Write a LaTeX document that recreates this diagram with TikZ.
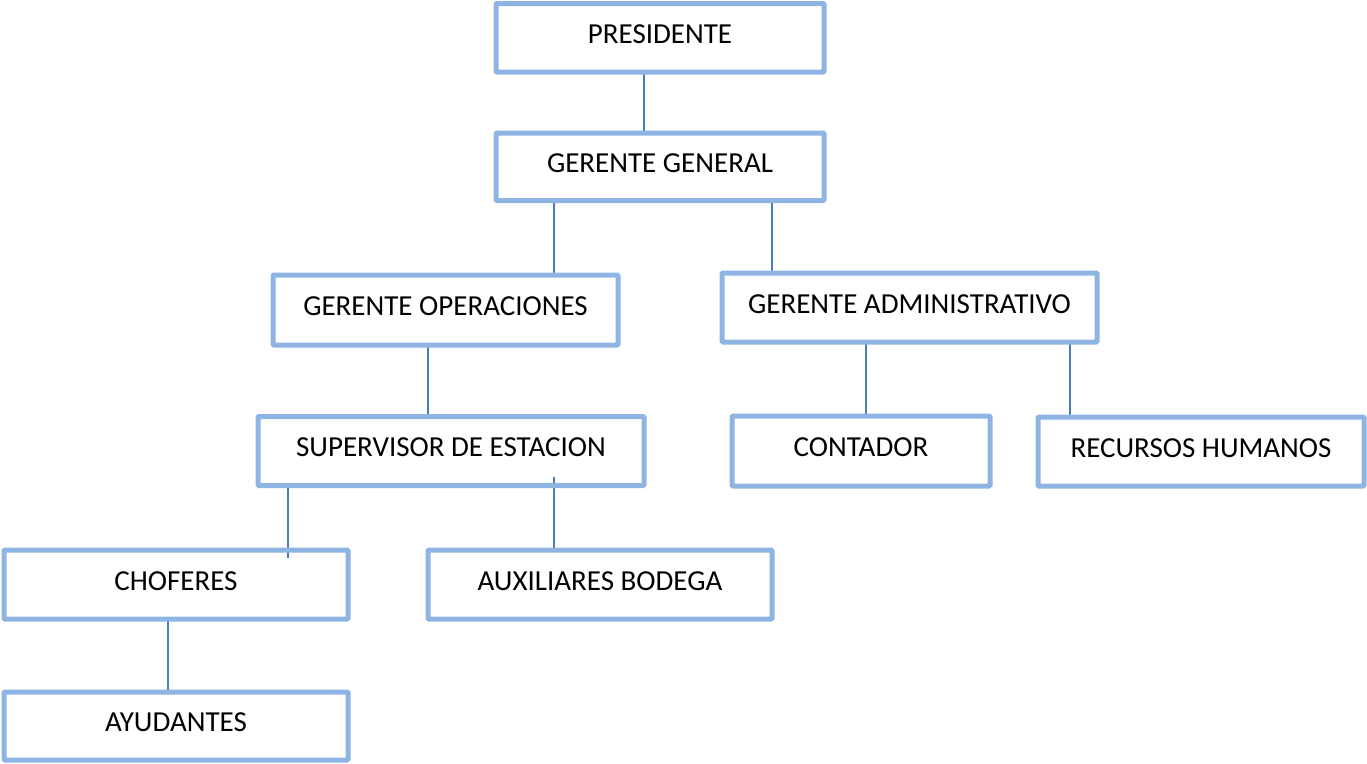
\documentclass[tikz,border=0pt]{standalone}
\usepackage{fontspec}
\setmainfont{Carlito}
\usetikzlibrary{backgrounds}
\definecolor{boxblue}{HTML}{8EB4E3}
\definecolor{lineblue}{HTML}{4A7EBB}
\begin{document}
\begin{tikzpicture}[x=1pt,y=-1pt,
  orgbox/.style={draw=boxblue, line width=5pt, rounded corners=1pt, inner sep=0pt, outer sep=0pt,
    text height=19pt, text depth=7.3pt, font=\fontsize{29}{34}\selectfont, text=black},
  conn/.style={draw=lineblue, line width=1.6pt}]
\useasboundingbox (0,0) rectangle (1367,763);
\node[orgbox, minimum width=328pt, minimum height=68.5pt] (pres) at (660,37.75) {PRESIDENTE};
\node[orgbox, minimum width=328pt, minimum height=67.5pt] (gg) at (660,166.75) {GERENTE GENERAL};
\node[orgbox, minimum width=345pt, minimum height=70pt] (go) at (445.5,310) {GERENTE OPERACIONES};
\node[orgbox, minimum width=375pt, minimum height=69pt] (ga) at (909.5,307.5) {GERENTE ADMINISTRATIVO};
\node[orgbox, minimum width=386pt, minimum height=69pt] (sup) at (451,451) {SUPERVISOR DE ESTACION};
\node[orgbox, minimum width=258pt, minimum height=70pt] (cont) at (861,451) {CONTADOR};
\node[orgbox, minimum width=326pt, minimum height=69pt] (rh) at (1201,451.5) {RECURSOS HUMANOS};
\node[orgbox, minimum width=344pt, minimum height=69pt] (chof) at (176,584.5) {CHOFERES};
\node[orgbox, minimum width=344pt, minimum height=69pt] (aux) at (600,584.5) {AUXILIARES BODEGA};
\node[orgbox, minimum width=344pt, minimum height=68pt] (ayu) at (176,726) {AYUDANTES};
\begin{scope}[on background layer]
\draw[conn] ([xshift=148pt]pres.south west) -- ([xshift=148pt]pres.south west |- gg.north);
\draw[conn] ([xshift=58pt]gg.south west) -- ([xshift=58pt]gg.south west |- go.north);
\draw[conn] ([xshift=276pt,yshift=-1.5pt]gg.south west) -- ([xshift=276pt,yshift=-2pt]gg.south west |- ga.north);
\draw[conn] ([xshift=155pt]go.south west) -- ([xshift=155pt]go.south west |- sup.north);
\draw[conn] ([xshift=144pt]ga.south west) -- ([xshift=144pt]ga.south west |- cont.north);
\draw[conn] ([xshift=348pt]ga.south west) -- ([xshift=348pt]ga.south west |- rh.north);
\draw[conn] ([xshift=30pt]sup.south west) -- ([xshift=30pt,yshift=-8pt]sup.south west |- chof.north);
\draw[conn] ([xshift=296pt,yshift=8.5pt]sup.south west) -- ([xshift=296pt]sup.south west |- aux.north);
\draw[conn] ([xshift=164pt]chof.south west) -- ([xshift=164pt]chof.south west |- ayu.north);
\end{scope}
\end{tikzpicture}
\end{document}
